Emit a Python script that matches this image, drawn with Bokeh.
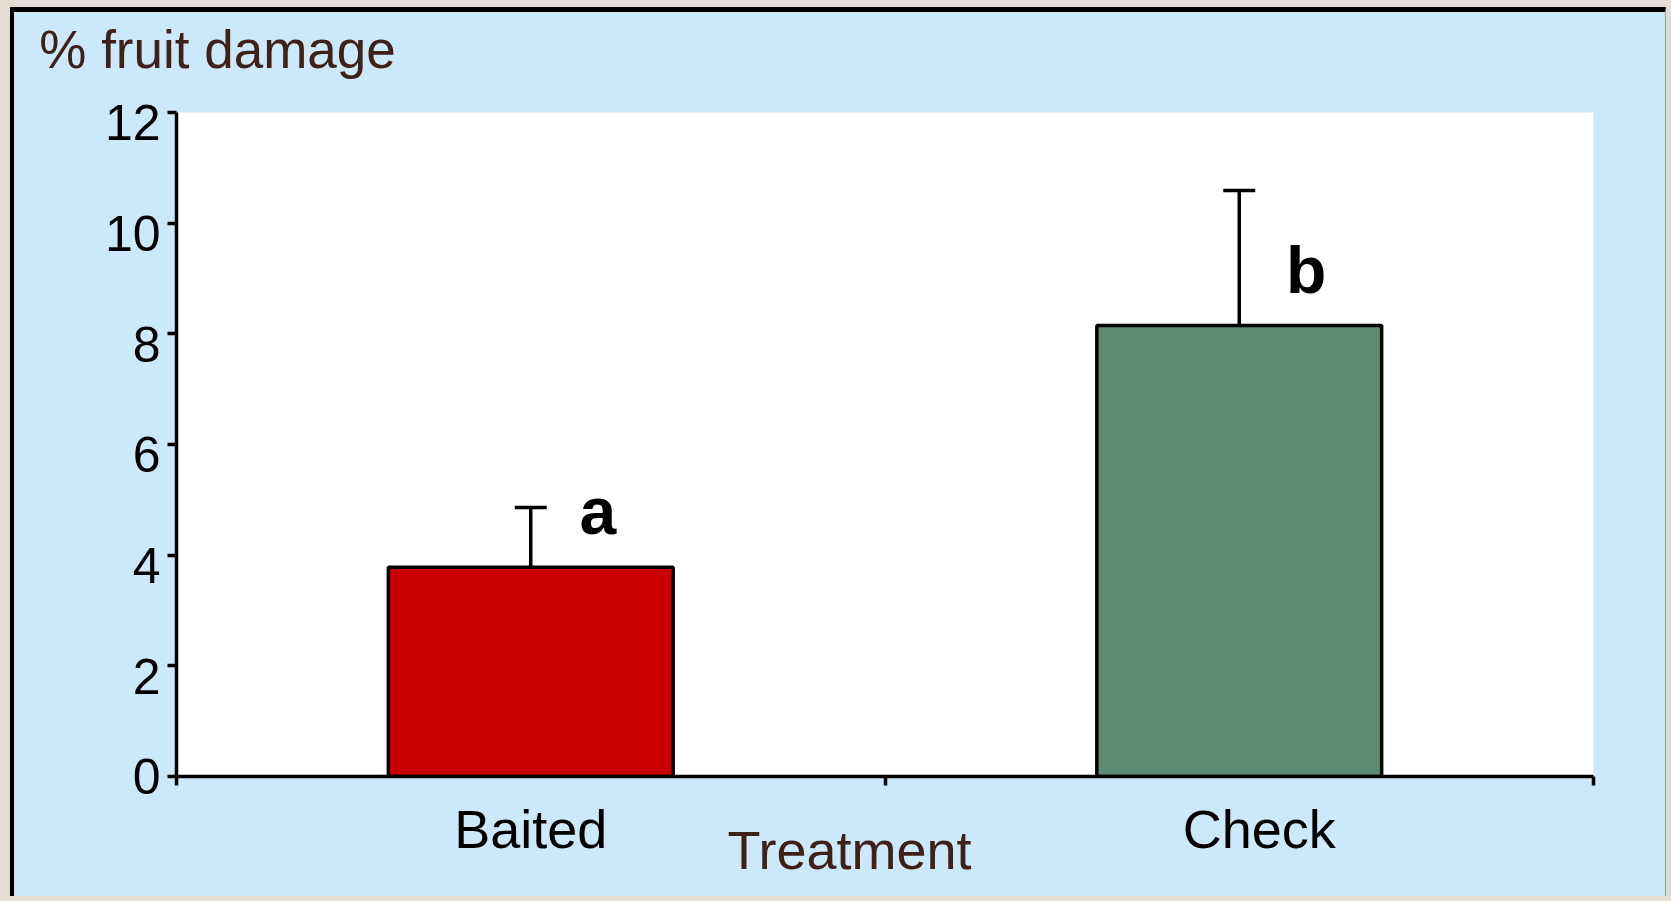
from bokeh.plotting import figure
from bokeh.models import (ColumnDataSource, LabelSet, Whisker, TeeHead,
                          FixedTicker, Range1d, LinearAxis)
from bokeh.embed import file_html
from bokeh.resources import INLINE
from bokeh.core.properties import value

# ---- data ----
treatments = ["Baited", "Check"]
mean_damage = [3.78, 8.15]
std_error = [1.08, 2.44]
letters = ["a", "b"]
bar_colors = ["#cc0000", "#5e8b73"]
y_ticks = [0, 2, 4, 6, 8, 10, 12]
y_tick_labels = ["0", "2", "4", "6", "8", "10", "12"]
y_title = "% fruit damage"
x_title = "Treatment"

# ---- layout / styles ----
FONT_NAME = "Liberation Sans"
BG = "#cce9fc"
BROWN = "#3f2117"
PAGE_BG = "#e3dcd3"
W, H = 1656, 889
ML, MR, MT, MB = 162, 77, 100, 125
Y_MAX = 12
N = len(treatments)
px_x = (W - ML - MR) / N          # pixels per x unit
cat_nudge_px = [0, 20]            # category-name nudges (screen px)
x_title_px = 673                  # centre of "Treatment" from frame left
y_title_px = 41                   # centre of "% fruit damage" from frame left
tick_drop = 0.1875                # y tick labels sit ~10px below their ticks

centers = [i + 0.5 for i in range(N)]
upper = [m + e for m, e in zip(mean_damage, std_error)]
src = ColumnDataSource(dict(x=centers, top=mean_damage, upper=upper,
                            color=bar_colors, letter=letters, name=treatments))

p = figure(width=W, height=H,
           x_range=Range1d(0, N), y_range=Range1d(0, Y_MAX),
           output_backend="svg", toolbar_location=None,
           min_border_left=ML, min_border_right=MR,
           min_border_top=MT, min_border_bottom=MB)
p.styles = {"margin-left": "10px", "margin-top": "7px",
            "border-top": "5px solid black", "border-left": "4px solid black",
            "border-right": "1px solid #8fa4b0"}
p.background_fill_color = "white"
p.border_fill_color = BG
p.outline_line_color = None
p.xgrid.visible = False
p.ygrid.visible = False


def bare_axis(ticks, labels, size, color="black", standoff=0, **kw):
    return LinearAxis(ticker=FixedTicker(ticks=ticks),
                      major_label_overrides={t: s for t, s in zip(ticks, labels)},
                      axis_line_color=None, major_tick_line_color=None,
                      minor_tick_line_color=None, major_tick_in=0, major_tick_out=0,
                      major_label_text_font=FONT_NAME, major_label_text_font_size=size,
                      major_label_text_color=color, major_label_standoff=standoff, **kw)


for ax in (p.xaxis[0], p.yaxis[0]):
    ax.axis_line_color = "black"
    ax.axis_line_width = 3.5
    ax.major_tick_line_color = "black"
    ax.major_tick_line_width = 3.5
    ax.major_tick_in = 0
    ax.major_tick_out = 9
    ax.minor_tick_line_color = None
    ax.major_label_text_font_size = "0px"
    ax.major_label_standoff = 0

# x axis: tick marks between categories
x_edges = list(range(N + 1))
p.xaxis[0].ticker = FixedTicker(ticks=x_edges)
p.xaxis[0].major_label_overrides = {t: "" for t in x_edges}

# y axis: tick marks
p.yaxis[0].ticker = FixedTicker(ticks=y_ticks)
p.yaxis[0].major_label_overrides = {t: "" for t in y_ticks}

# y tick labels (slightly below their ticks, as in the reference;
# the bottom one cannot leave the plot range, so it stays on its tick)
lab_pos = [max(t - tick_drop, 0) for t in y_ticks]
p.add_layout(bare_axis(lab_pos, y_tick_labels, "50px", standoff=7), "left")

# category names
cat_pos = [round(c + d / px_x, 4) for c, d in zip(centers, cat_nudge_px)]
p.add_layout(bare_axis(cat_pos, treatments, "54px", standoff=13), "below")

# x title
xt = round(x_title_px / px_x, 4)
p.add_layout(bare_axis([xt], [x_title], "54px", color=BROWN, standoff=-42), "below")

# y title (top-left)
yt = round(y_title_px / px_x, 4)
p.add_layout(bare_axis([yt], [y_title], "53px", color=BROWN, standoff=34), "above")

# bars
p.vbar(x="x", top="top", bottom=0, width=0.402, source=src,
       fill_color="color", line_color="black", line_width=3.5)

# error bars (upper only)
p.add_layout(Whisker(source=src, base="x", upper="upper", lower="top",
                     dimension="height", line_color="black", line_width=3.5,
                     upper_head=TeeHead(size=32, line_color="black", line_width=3.5),
                     lower_head=None))

# significance letters
p.add_layout(LabelSet(x="x", y="top", text="letter", source=src,
                      x_offset=67, y_offset=33, text_font=value(FONT_NAME),
                      text_font_style="bold", text_font_size="66px",
                      text_color="black", text_align="center",
                      text_baseline="alphabetic"))

html = file_html(p, INLINE)
html = html.replace("</head>",
                    "<style>html, body { background-color: %s; }</style></head>" % PAGE_BG, 1)
open("out.html", "w").write(html)
